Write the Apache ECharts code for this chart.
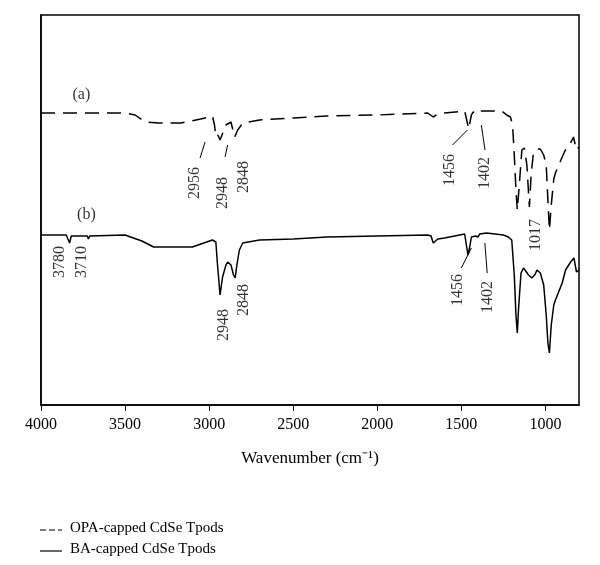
<!DOCTYPE html>
<html><head><meta charset="utf-8">
<script src="https://cdn.jsdelivr.net/npm/echarts@6/dist/echarts.min.js"></script>
<style>html,body{margin:0;padding:0;background:#fff}#c{width:600px;height:565px}</style>
</head><body><div id="c"></div>
<script>
// wavenumber (cm-1), relative transmittance (arbitrary units)
const opaX = [4000,3800,3500,3440,3380,3300,3170,3050,2980,2968,2960,2956,2948,2935,2900,2870,2860,2848,2830,2800,2700,2500,2300,2000,1700,1667,1640,1600,1480,1470,1464,1456,1440,1430,1402,1380,1330,1260,1230,1208,1195,1185,1175,1167,1155,1140,1125,1110,1095,1085,1071,1050,1030,1010,995,985,976,965,950,940,900,881,850,833,815,800];
const opaY = [292,292,292,290,283,282,282,286,289,280,268,266,270,265,280,283,276,268,275,282,285,287,289,290,292,288,291,292,294,292,282,276,290,293,291,294,294,294,290,288,280,250,215,195,220,255,257,240,198,230,252,256,256,250,240,205,175,200,226,232,248,255,262,268,255,258];
const baX = [4000,3850,3840,3830,3820,3725,3718,3710,3700,3500,3450,3400,3330,3200,3100,2980,2960,2950,2935,2920,2900,2890,2870,2855,2845,2835,2820,2800,2700,2500,2300,2000,1700,1680,1667,1640,1600,1480,1470,1460,1450,1440,1430,1415,1402,1390,1350,1300,1250,1220,1200,1185,1175,1167,1160,1145,1130,1100,1080,1060,1050,1030,1010,995,985,976,965,950,940,900,880,850,830,815,800];
const baY = [170,170,168,162,169,169,166,169,170,170,167,164,158,158,158,165,163,140,110,128,140,143,140,130,127,140,155,162,165,166,168,169,170,169,162,166,167,171,160,150,158,168,166,169,168,171,172,171,170,168,165,130,90,72,95,132,137,130,127,131,135,132,120,90,62,52,80,100,105,122,135,143,147,133,135];
const labels = [ // text, wavenumber, value
  ['2956',3083,222],['2948',2917,212],['2848',2792,228],
  ['3780',3887,143],['3710',3756,143],['2948',2911,80],['2848',2792,105],
  ['1456',1567,235],['1402',1359,232],['1017',1054,170],
  ['1456',1519,115],['1402',1340,108]
];
const leaders = [
  [[3054,247],[3024,263]],[[2905,248],[2890,260]],
  [[1552,260],[1464,275]],[[1359,255],[1381,280]],
  [[1500,137],[1440,157]],[[1346,132],[1360,162]]
];
const legendNames = ['OPA-capped CdSe Tpods','BA-capped CdSe Tpods'];
const series = [
  {name:legendNames[0],type:'line',data:opaX.map((x,i)=>[x,opaY[i]]),showSymbol:false,symbol:'none',
   lineStyle:{color:'#000',width:1.5,type:[14,8]}},
  {name:legendNames[1],type:'line',data:baX.map((x,i)=>[x,baY[i]]),showSymbol:false,symbol:'none',
   lineStyle:{color:'#000',width:1.5}},
  {type:'scatter',symbolSize:0,silent:true,data:labels.map(l=>({value:[l[1],l[2]],name:l[0]})),
   label:{show:true,formatter:p=>p.name,rotate:90,position:'inside',color:'#000',fontFamily:'Liberation Serif',fontSize:16}},
  {type:'scatter',symbolSize:0,silent:true,data:[{value:[3760,310],name:'(a)'},{value:[3730,190],name:'(b)'}],
   label:{show:true,formatter:p=>p.name,position:'inside',color:'#000',fontFamily:'Liberation Serif',fontSize:16}}
];
leaders.forEach(l=>series.push({type:'line',data:l,symbol:'none',silent:true,lineStyle:{color:'#000',width:1}}));
const ticks=[4000,3500,3000,2500,2000,1500,1000];
const tf={fontFamily:'Liberation Serif',fontSize:15,fill:'#000'};
echarts.init(document.getElementById('c')).setOption({
  animation:false,
  grid:{left:41,right:21,top:15,bottom:160,show:true,borderColor:'#000',borderWidth:1.5},
  xAxis:{type:'value',min:800,max:4000,inverse:true,
    name:'Wavenumber (cm⁻¹)',nameLocation:'middle',nameGap:45,
    nameTextStyle:{fontFamily:'Liberation Serif',fontSize:17,color:'#000'},
    axisLine:{lineStyle:{color:'#000',width:1.5}},
    axisTick:{customValues:ticks,length:6,lineStyle:{color:'#000'}},
    axisLabel:{customValues:ticks,formatter:v=>String(v),fontFamily:'Liberation Serif',fontSize:16,color:'#000',margin:12},
    splitLine:{show:false}},
  yAxis:{type:'value',min:0,max:390,axisLine:{show:true,lineStyle:{color:'#000',width:1.5}},
    axisTick:{show:false},axisLabel:{show:false},splitLine:{show:false}},
  graphic:[
    {type:'line',shape:{x1:40,y1:530,x2:62,y2:530},style:{stroke:'#000',lineWidth:1.2,lineDash:[6,3]}},
    {type:'text',left:70,top:521,style:Object.assign({text:legendNames[0]},tf)},
    {type:'line',shape:{x1:40,y1:551,x2:62,y2:551},style:{stroke:'#000',lineWidth:1.2}},
    {type:'text',left:70,top:542,style:Object.assign({text:legendNames[1]},tf)}
  ],
  series
});
</script></body></html>
